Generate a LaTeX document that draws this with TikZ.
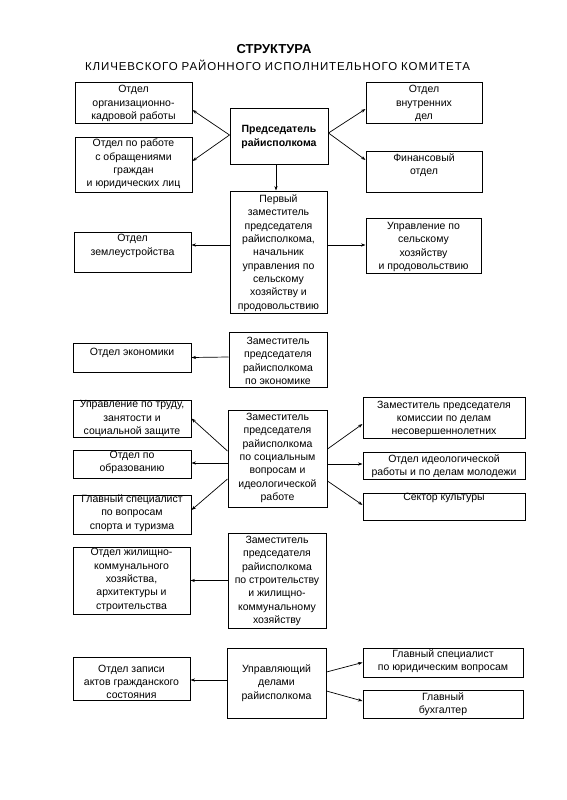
\documentclass[tikz,border=0pt]{standalone}
\usepackage{fontspec}
\setmainfont{Liberation Sans}
\usetikzlibrary{arrows.meta,fit}
\newcommand\bx[7]{%
  \node[box, fit={(#2,#3) (#4,#5)}] (#1) {};
  \node[txt] (#1-t) at ({(#2+#4)/2},#6) {#7};}
\begin{document}
\begin{tikzpicture}[x=1pt,y=-1pt,
  box/.style={draw, line width=1pt, inner sep=0pt},
  txt/.style={align=center, inner sep=0pt, font=\fontsize{10.5}{13.3}\selectfont},
  arr/.style={line width=0.7pt, -{Stealth[length=4.5pt,width=3.2pt]}}]
\useasboundingbox (0,0) rectangle (567,800);
\fill[white] (0,0) rectangle (567,800);
% title
\node (t1) at (274,49) {\fontsize{13}{15}\selectfont\bfseries СТРУКТУРА};
\node (t2) at (277.5,65) {\fontsize{11.5}{13}\selectfont\addfontfeature{LetterSpace=8}\makebox[385pt][s]{КЛИЧЕВСКОГО\hfil\ РАЙОННОГО\hfil\ ИСПОЛНИТЕЛЬНОГО\hfil\ КОМИТЕТА}};
% boxes
\bx{ok}{75}{82}{192}{123}{103.5}{Отдел\\организационно-\\кадровой работы}
\bx{obr}{75}{137}{192}{192}{164}{Отдел по работе\\с обращениями\\граждан\\и юридических лиц}
\bx{pred}{230}{108}{328}{164}{137}{\textbf{Председатель}\\\textbf{райисполкома}}
\bx{vnd}{366}{82}{482}{123}{103.5}{Отдел\\внутренних\\дел}
\bx{fin}{366}{151}{482}{192}{165}{Финансовый\\отдел}
\bx{perv}{230}{191}{327}{313}{253}{Первый\\заместитель\\председателя\\райисполкома,\\начальник\\управления по\\сельскому\\хозяйству и\\продовольствию}
\bx{zem}{74}{232}{191}{272}{246}{Отдел\\землеустройства}
\bx{upsh}{366}{218}{481}{273}{247}{Управление по\\сельскому\\хозяйству\\и продовольствию}
\bx{zek}{229}{332}{327}{387}{361}{Заместитель\\председателя\\райисполкома\\по экономике}
\bx{ek}{73}{343}{191}{372}{353}{Отдел экономики}
\bx{trud}{73}{400}{191}{437}{418.5}{Управление по труду,\\занятости и\\социальной защите}
\bx{obraz}{73}{450}{191}{478}{462.5}{Отдел по\\образованию}
\bx{sport}{73}{495}{191}{534}{513}{Главный специалист\\по вопросам\\спорта и туризма}
\bx{soc}{228}{410}{327}{507}{458}{Заместитель\\председателя\\райисполкома\\по социальным\\вопросам и\\идеологической\\работе}
\bx{kdn}{363}{397}{525}{438}{419}{Заместитель председателя\\комиссии по делам\\несовершеннолетних}
\bx{ideo}{363}{452}{525}{479}{466}{Отдел идеологической\\работы и по делам молодежи}
\bx{kult}{363}{493}{525}{520}{498}{Сектор культуры}
\bx{zstr}{228}{533}{326}{628}{581}{Заместитель\\председателя\\райисполкома\\по строительству\\и жилищно-\\коммунальному\\хозяйству}
\bx{zhkh}{73}{547}{190}{614}{580}{Отдел жилищно-\\коммунального\\хозяйства,\\архитектуры и\\строительства}
\bx{upd}{227}{648}{326}{718}{683}{Управляющий\\делами\\райисполкома}
\bx{zags}{73}{657}{190}{700}{682}{Отдел записи\\актов гражданского\\состояния}
\bx{yur}{363}{648}{523}{677}{661.5}{Главный специалист\\по юридическим вопросам}
\bx{buh}{363}{690}{523}{718}{704}{Главный\\бухгалтер}
% arrows
\draw[arr] ([yshift=1pt]pred.west) -- ([yshift=-7.5pt]ok.east);
\draw[arr] ([yshift=1pt]pred.west) -- ([yshift=3.5pt]obr.east);
\draw[arr] ([yshift=3pt]pred.east) -- ([yshift=-6.5pt]vnd.west);
\draw[arr] ([yshift=3pt]pred.east) -- ([yshift=11.5pt]fin.west);
\draw[arr] ([xshift=-3pt]pred.south) -- ([xshift=-2.5pt]perv.north);
\draw[arr] ([yshift=7pt]perv.west) -- ([yshift=7pt]zem.east);
\draw[arr] ([yshift=7pt]perv.east) -- ([yshift=0.5pt]upsh.west);
\draw[arr] ([yshift=2.5pt]zek.west) -- (ek.east);
\draw[arr] ([yshift=7.5pt]soc.west) -- (trud.east);
\draw[arr] ([yshift=-4.5pt]soc.west) -- ([yshift=1pt]obraz.east);
\draw[arr] ([yshift=-20.5pt]soc.west) -- ([yshift=4.5pt]sport.east);
\draw[arr] ([yshift=9.5pt]soc.east) -- ([yshift=-6.5pt]kdn.west);
\draw[arr] ([yshift=-5.5pt]soc.east) -- ([yshift=1.5pt]ideo.west);
\draw[arr] ([yshift=-22.5pt]soc.east) -- ([yshift=1.5pt]kult.west);
\draw[arr] (zstr.west) -- (zhkh.east);
\draw[arr] ([yshift=3pt]upd.west) -- ([yshift=-1.5pt]zags.east);
\draw[arr] ([yshift=11pt]upd.east) -- (yur.west);
\draw[arr] ([yshift=-8pt]upd.east) -- ([yshift=3pt]buh.west);
\end{tikzpicture}
\end{document}
